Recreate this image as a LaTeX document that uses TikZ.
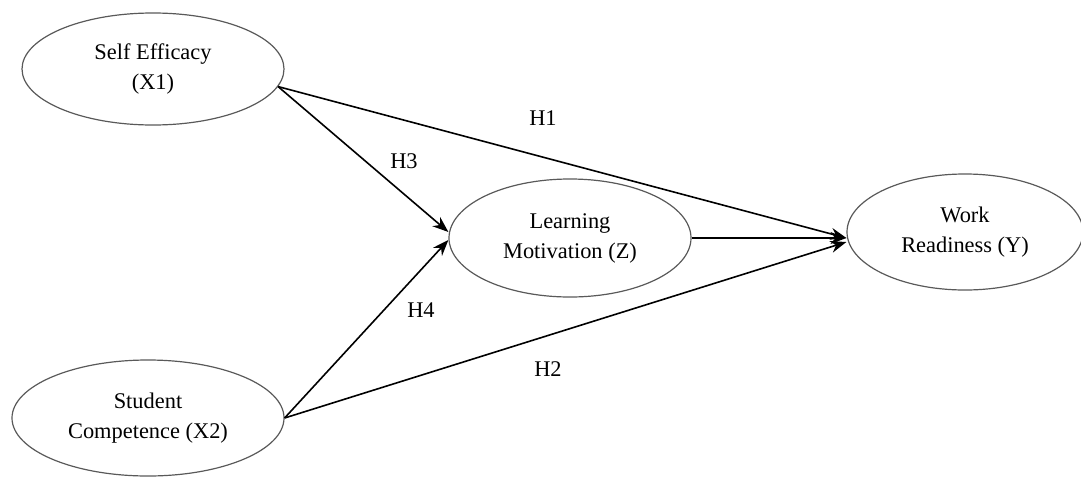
\documentclass[tikz,border=0pt]{standalone}
\usepackage{fontspec}
\setmainfont{Liberation Serif}
\usetikzlibrary{shapes.geometric,arrows.meta}

\begin{document}
\begin{tikzpicture}[x=0.5pt,y=-0.5pt,
  latent/.style={ellipse,draw=gray!70!black,line width=0.6pt,inner sep=0pt,align=center,font=\fontsize{11.2}{15}\selectfont},
  path/.style={line width=0.8pt,-{Stealth[length=8pt,width=6pt]}},
  hyp/.style={font=\fontsize{11.2}{15}\selectfont}]
\useasboundingbox (0,0) rectangle (1081,477);

\node[latent,minimum width=131pt,minimum height=56pt] (X1) at (153,69) {Self Efficacy\\(X1)};
\node[latent,minimum width=136pt,minimum height=58pt] (X2) at (148,418) {Student\\Competence (X2)};
\node[latent,minimum width=121pt,minimum height=59pt] (Z) at (570,238) {Learning\\Motivation (Z)};
\node[latent,minimum width=118pt,minimum height=58pt] (Y) at (965,232) {Work\\Readiness (Y)};

\draw[path] (X1.-8) -- ([yshift=-3pt]Y.west);
\draw[path] (X1.-8) -- ([yshift=3pt]Z.west);
\draw[path] (X2.east) -- ([yshift=-1pt]Z.west);
\draw[path] (X2.east) -- ([yshift=-5pt]Y.west);
\draw[path] (Z.east) -- ([yshift=-3pt]Y.west);

\node[hyp] (h1) at (543,118) {H1};
\node[hyp] (h3) at (404,161) {H3};
\node[hyp] (h4) at (421,310) {H4};
\node[hyp] (h2) at (548,369) {H2};
\end{tikzpicture}
\end{document}
